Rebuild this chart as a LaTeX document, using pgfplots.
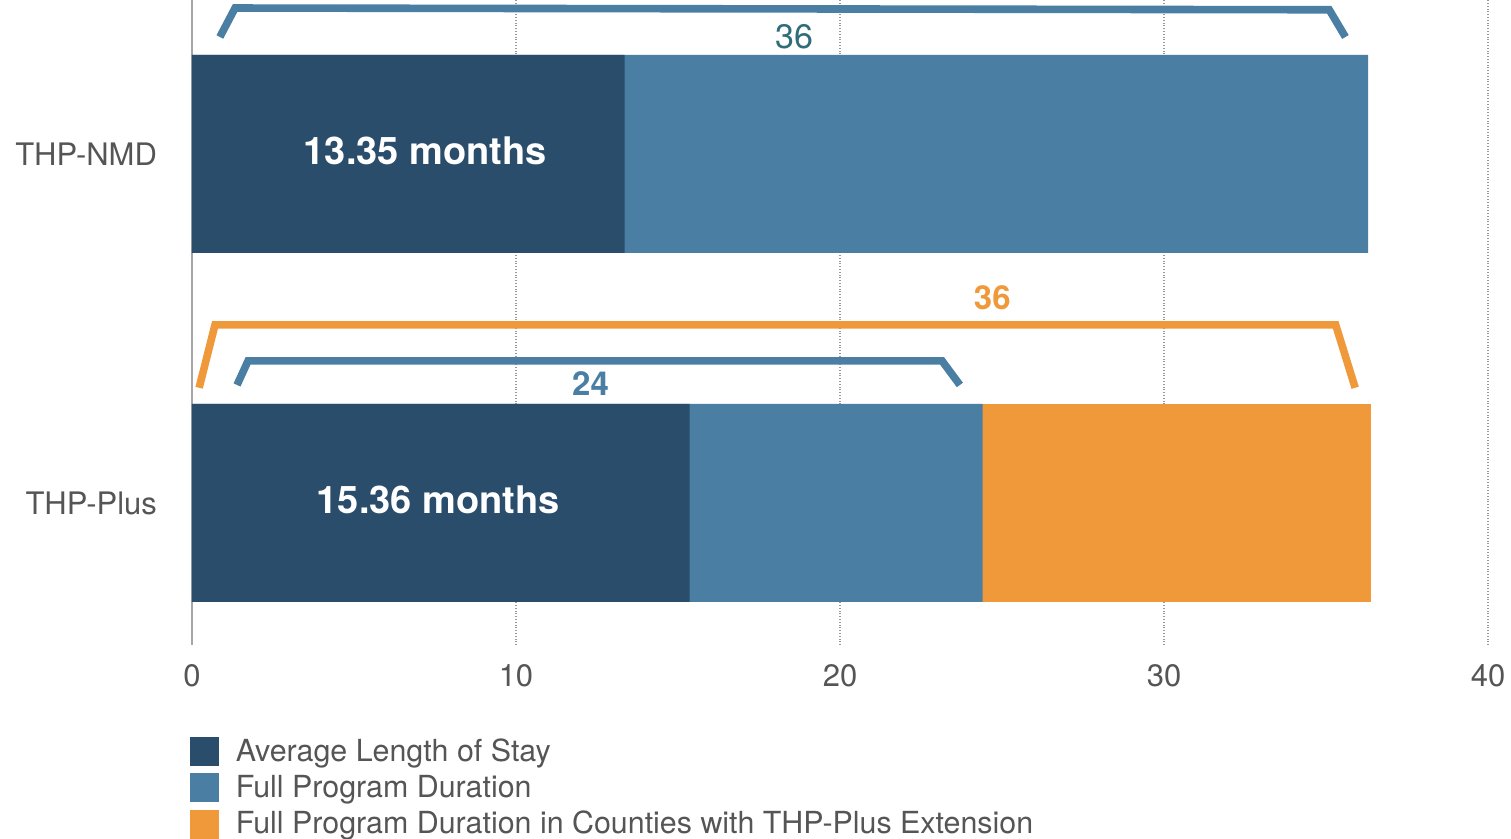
\documentclass[border=0pt]{standalone}
\usepackage{pgfplots}
\pgfplotsset{compat=1.18}
\usepackage{fontspec}
\setmainfont{TeX Gyre Heros}
\definecolor{navy}{HTML}{2A4D6B}
\definecolor{midblue}{HTML}{4A7EA3}
\definecolor{orng}{HTML}{F0993A}
\definecolor{teal36}{HTML}{2F6E79}
\definecolor{txtgray}{HTML}{555555}
\begin{document}
\begin{tikzpicture}
\begin{axis}[
  at={(0pt,0pt)}, anchor=south west,
  scale only axis, width=648pt, height=322.5pt,
  xmin=0, xmax=40, ymin=-0.407, ymax=1.441,
  bar width=99pt,
  ytick={0,1}, yticklabels={THP-Plus,THP-NMD},
  xtick={10,20,30,40},
  extra x ticks={0},
  extra x tick style={grid style={solid, draw=gray!70, line width=0.8pt}},
  xmajorgrids,
  grid style={densely dotted, draw=gray!80, line width=0.8pt},
  axis line style={draw=none}, major tick length=0pt,
  /pgf/number format/assume math mode=true,
  tick label style={font=\fontsize{15.5}{18}\selectfont, text=txtgray},
  xticklabel style={yshift=-6pt},
  yticklabel style={xshift=-14pt},
  legend style={draw=none, fill=none, inner sep=0pt, row sep=1.5pt,
    font=\fontsize{15.2}{18}\selectfont, text=txtgray,
    at={(axis description cs:0,0)}, anchor=north west, xshift=-1pt, yshift=-44.5pt},
  legend cell align=left,
]
% legend entries
\addlegendimage{legend image code/.code={\fill[navy] (0pt,-7pt) rectangle (14pt,7pt); \path[draw=none] (0pt,0pt) -- (20.5pt,0pt);}}
\addlegendentry{Average Length of Stay}
\addlegendimage{legend image code/.code={\fill[midblue] (0pt,-7pt) rectangle (14pt,7pt); \path[draw=none] (0pt,0pt) -- (20.5pt,0pt);}}
\addlegendentry{Full Program Duration}
\addlegendimage{legend image code/.code={\fill[orng] (0pt,-7pt) rectangle (14pt,7pt); \path[draw=none] (0pt,0pt) -- (20.5pt,0pt);}}
\addlegendentry{Full Program Duration in Counties with THP-Plus Extension}
% bars (cumulative end values, drawn back to front)
\addplot[xbar, bar shift=0pt, fill=orng, draw=none, forget plot] coordinates {(36.4,0)};
\addplot[xbar, bar shift=0pt, fill=midblue, draw=none, forget plot] coordinates {(36.3,1) (24.4,0)};
\addplot[xbar, bar shift=0pt, fill=navy, draw=none, forget plot] coordinates {(13.35,1) (15.36,0)};
% brackets
\addplot[midblue, line width=3.8pt, no marks, forget plot] coordinates {(0.86,1.335) (1.33,1.418) (35.1,1.413) (35.6,1.335)};
\addplot[orng, line width=3.8pt, no marks, forget plot] coordinates {(0.22,0.330) (0.71,0.510) (35.3,0.510) (35.9,0.330)};
\addplot[midblue, line width=3.8pt, no marks, forget plot] coordinates {(1.39,0.338) (1.73,0.407) (23.15,0.407) (23.7,0.338)};
% labels
\node[text=white, font=\bfseries\fontsize{19}{22}\selectfont] at (axis cs:7.2,1.01) {13.35 months};
\node[text=white, font=\bfseries\fontsize{19}{22}\selectfont] at (axis cs:7.6,0.01) {15.36 months};
\node[text=teal36, font=\fontsize{17}{20}\selectfont] at (axis cs:18.6,1.335) {36};
\node[text=orng, font=\bfseries\fontsize{16.5}{20}\selectfont] at (axis cs:24.7,0.587) {36};
\node[text=midblue, font=\bfseries\fontsize{16.5}{20}\selectfont] at (axis cs:12.3,0.341) {24};
\end{axis}
\pgfresetboundingbox
\useasboundingbox (-96pt,-97pt) rectangle (659.5pt,322.5pt);
\end{tikzpicture}
\end{document}
